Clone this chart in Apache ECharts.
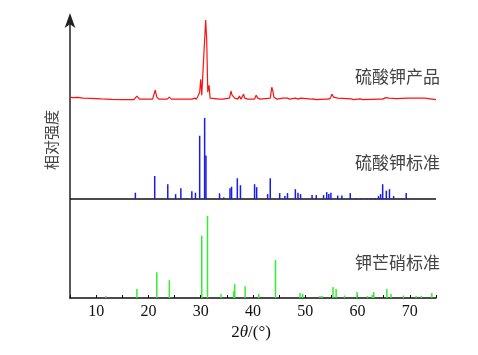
<!DOCTYPE html>
<html>
<head>
<meta charset="utf-8">
<script src="https://cdn.jsdelivr.net/npm/echarts@6/dist/echarts.min.js"></script>
<style>html,body{margin:0;padding:0;background:#fff}#c{width:478px;height:355px}</style>
</head>
<body>
<div id="c"></div>
<script>
// Product (measured) pattern: 2θ and relative intensity
const redX = [5.0,5.5,6.5,7.5,9,11,13,15,17.2,17.8,18.3,20.8,21.3,21.6,22.0,23.6,24.0,24.4,26.2,26.5,26.8,28.4,28.8,29.2,29.5,29.8,30.0,30.2,30.5,30.7,30.95,31.15,31.35,31.6,31.8,33.6,33.9,34.2,35.5,35.8,36.0,36.2,36.5,37.1,37.4,37.7,38.2,38.4,38.7,39.0,40.3,40.6,40.9,41.1,41.4,43.3,43.6,43.8,44.0,44.3,44.6,45.7,46.0,46.6,47.0,48.1,48.4,48.7,49.1,49.4,51.2,51.6,52.0,53.8,54.1,54.4,54.8,55.1,55.4,55.6,56.2,56.5,58.8,59.2,60.5,61.0,64.2,64.5,64.8,65.4,65.7,66.0,66.3,67.4,67.7,69.6,69.9,72.8,73.1,75.0];
const redY = [0.03,0.025,0.028,0.02,0.018,0.012,0.008,0.005,0.005,0.04,0.01,0.01,0.10,0.03,0.01,0.01,0.03,0.01,0.01,0.03,0.01,0.01,0.02,0.01,0.03,0.08,0.21,0.05,0.03,0.56,0.81,0.60,0.08,0.15,0.02,0.01,0.03,0.01,0.02,0.09,0.05,0.06,0.02,0.01,0.04,0.01,0.06,0.02,0.04,0.01,0.01,0.05,0.02,0.04,0.01,0.02,0.13,0.09,0.03,0.03,0.01,0.02,0.01,0.02,0.01,0.02,0.04,0.01,0.02,0.01,0.01,0.012,0.005,0.01,0.02,0.01,0.02,0.06,0.03,0.02,0.02,0.005,0.012,0.005,0.012,0.005,0.01,0.03,0.01,0.025,0.01,0.02,0.005,0.015,0.005,0.02,0.005,0.02,0.005,0.005];

// K2SO4 standard lines
const blueX = [17.5,21.2,23.7,25.2,26.2,28.3,29.0,29.8,30.75,31.0,33.6,34.4,35.6,35.9,37.0,37.6,40.3,40.7,42.8,43.3,45.1,46.1,46.6,48.1,48.6,49.1,51.3,52.1,53.5,54.1,54.5,54.9,56.2,57.0,58.6,59.7,60.7,61.7,62.6,63.3,64.0,64.4,64.8,65.5,66.1,66.9,68.4,69.3];
const blueY = [0.064,0.233,0.15,0.05,0.11,0.08,0.064,0.64,0.82,0.44,0.058,0.017,0.11,0.125,0.21,0.14,0.15,0.12,0.05,0.21,0.06,0.03,0.06,0.10,0.065,0.05,0.04,0.04,0.04,0.07,0.05,0.065,0.035,0.035,0.06,0.01,0.01,0.01,0.01,0.01,0.03,0.05,0.15,0.085,0.10,0.03,0.01,0.06];

// Glaserite standard lines
const greenX = [11.85,17.8,21.6,24.0,30.2,31.3,33.9,36.3,36.5,38.5,41.1,44.3,49.0,49.5,52.8,53.2,55.3,55.9,57.5,59.9,61.9,62.8,63.1,65.6,66.4,68.8,71.2,72.2,74.2];
const greenY = [0.02,0.09,0.26,0.18,0.63,0.83,0.04,0.07,0.14,0.12,0.04,0.385,0.05,0.04,0.02,0.02,0.11,0.09,0.025,0.06,0.02,0.03,0.06,0.09,0.04,0.025,0.02,0.02,0.05];

const xTicks = [10,20,30,40,50,60,70];
const labels = ['硫酸钾产品','硫酸钾标准','钾芒硝标准'];
const offsets = [2, 1, 0];

const chart = echarts.init(document.getElementById('c'), null, {renderer:'canvas'});

function stickSeries(xs, ys, base, color){
  return {
    type:'custom',
    data: xs.map((x,i)=>[x, ys[i]]),
    renderItem: function(params, api){
      const x = api.value(0), h = api.value(1);
      const p0 = api.coord([x, base]);
      const p1 = api.coord([x, base + h]);
      return {type:'line', shape:{x1:p0[0], y1:p0[1], x2:p1[0], y2:p1[1]}, style:{stroke:color, lineWidth:1.5}};
    },
    z: 3
  };
}

const option = {
  animation:false,
  grid:{left:70, right:42, top:17, bottom:57},
  xAxis:{
    type:'value', min:5, max:75, interval:5,
    axisLine:{lineStyle:{color:'#111', width:1.5}},
    axisTick:{inside:true, length:3, lineStyle:{color:'#111'}},
    axisLabel:{margin:6, color:'#111', fontFamily:'Liberation Serif', fontSize:16,
      formatter: v => xTicks.indexOf(v) >= 0 ? String(v) : ''},
    splitLine:{show:false}
  },
  yAxis:{
    type:'value', min:0, max:2.84,
    axisLine:{show:true, symbol:['none','arrow'], symbolSize:[8,15], symbolOffset:[0,4], lineStyle:{color:'#222', width:1.5}},
    axisTick:{show:false}, axisLabel:{show:false}, splitLine:{show:false}
  },
  series:[
    {type:'line', data: redX.map((x,i)=>[x, redY[i] + offsets[0]]), symbol:'none',
     lineStyle:{color:'#ff1010', width:1.2}, z:4},
    {type:'line', data:[[5,offsets[1]],[75,offsets[1]]], symbol:'none', lineStyle:{color:'#111', width:1.5}, z:2},
    stickSeries(blueX, blueY, offsets[1], '#1a1aee'),
    stickSeries(greenX, greenY, offsets[2], '#33ee33')
  ],
  graphic:[
    {type:'text', x:440, y:77, style:{text:labels[0], align:'right', verticalAlign:'middle', font:'17px "Noto Sans CJK SC"', fill:'#444'}},
    {type:'text', x:440, y:163, style:{text:labels[1], align:'right', verticalAlign:'middle', font:'17px "Noto Sans CJK SC"', fill:'#444'}},
    {type:'text', x:440, y:263, style:{text:labels[2], align:'right', verticalAlign:'middle', font:'17px "Noto Sans CJK SC"', fill:'#444'}},
    {type:'text', x:51, y:140, rotation:Math.PI/2, style:{text:'相对强度', align:'center', verticalAlign:'middle', font:'15px "Noto Sans CJK SC"', fill:'#444'}},
    {type:'text', x:251, y:333, style:{text:'2{i|θ}/(°)', align:'center', verticalAlign:'middle', font:'17px "Liberation Serif"', fill:'#111',
      rich:{i:{fontStyle:'italic', fontFamily:'Liberation Serif', fontSize:17, fill:'#111'}}}}
  ]
};
chart.setOption(option);
</script>
</body>
</html>
